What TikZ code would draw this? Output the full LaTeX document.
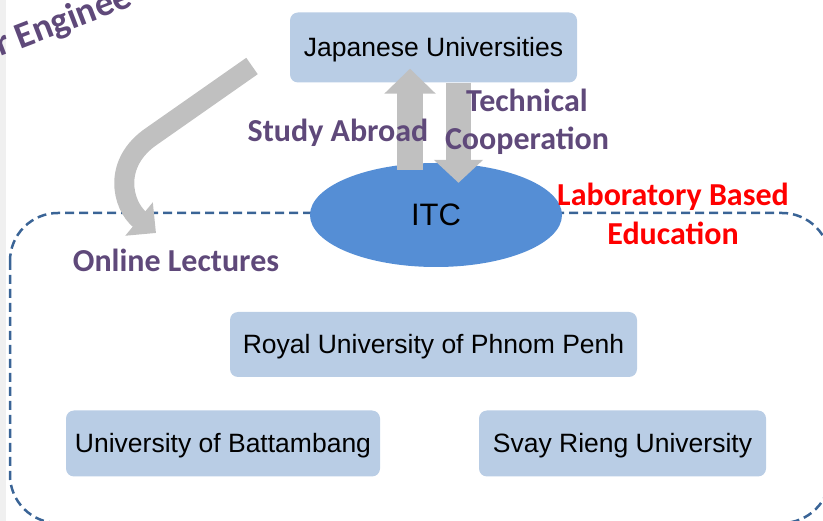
\documentclass[tikz,border=0pt]{standalone}
\usepackage{fontspec}
\setmainfont{Liberation Sans}
\newfontfamily\calib{Carlito}
\usetikzlibrary{arrows.meta,shapes.geometric,calc}
\definecolor{boxblue}{HTML}{B9CDE5}
\definecolor{itcblue}{HTML}{558ED5}
\definecolor{dashblue}{HTML}{3A6496}
\definecolor{purp}{HTML}{5F497A}
\definecolor{arrgray}{HTML}{C0C0C0}
\definecolor{lbred}{HTML}{FF0000}
\begin{document}
\begin{tikzpicture}[x=1pt,y=-1pt,
  unibox/.style={fill=boxblue, rounded corners=8pt, inner sep=0pt,
    text height=19pt, text depth=0pt,
    font=\fontsize{26.5}{30}\selectfont},
  lbl/.style={font=\calib\bfseries\fontsize{32}{38.5}\selectfont, text=purp, align=center, inner sep=0pt},
  garrow/.style={draw=arrgray}]
\path[use as bounding box] (0,0) rectangle (823,521);
\clip (0,0) rectangle (823,521);
\fill[gray!12] (0,0) rectangle (6,521);
% container
\draw[dashblue, line width=2.5pt, dash pattern=on 9pt off 5pt, rounded corners=48pt]
  (10,213) rectangle (830,523);
% nodes
\node[unibox, minimum width=287pt, minimum height=70pt] (jp) at (433.5,47.5) {Japanese Universities};
\node[ellipse, fill=itcblue, minimum width=252pt, minimum height=104pt, inner sep=0pt,
  font=\fontsize{31}{34}\selectfont] (itc) at (436,215) {ITC};
\node[unibox, minimum width=407pt, minimum height=65pt] (rupp) at (433.5,344.5) {Royal University of Phnom Penh};
\node[unibox, minimum width=314pt, minimum height=66pt] (ubb) at (223,443.5) {University of Battambang};
\node[unibox, minimum width=287pt, minimum height=66pt] (sru) at (622.5,443.5) {Svay Rieng University};
% arrows
\draw[garrow, line width=26pt, -{Triangle[width=50pt,length=25pt]}]
  ($(itc.north)+(-26,7)$) -- ($(jp.south)+(-23.5,-14)$);
\draw[garrow, line width=25pt, -{Triangle[width=48pt,length=23pt]}]
  ($(jp.south)+(25,0)$) -- ($(itc.north)+(22.5,20)$);
\coordinate (olstart) at (252,66);
\coordinate (oltip) at (156,233);
\draw[garrow, line width=20pt, -{Triangle[width=42pt,length=22pt]}]
  (olstart) -- (152,136) .. controls (112,163) and (122,205) .. (oltip);
% labels
\node[lbl] (sa) at (338,133) {Study Abroad};
\node[lbl] (tc) at (527,122) {Technical\\Cooperation};
\node[lbl, text=lbred] (lbe) at (673,214) {Laboratory Based\\Education};
\node[lbl] (ol) at (176,260) {Online Lectures};
\node[lbl, font=\calib\bfseries\fontsize{37}{40}\selectfont, rotate=21, anchor=base west] (eng) at (0,57) {r Enginee};
\end{tikzpicture}
\end{document}
